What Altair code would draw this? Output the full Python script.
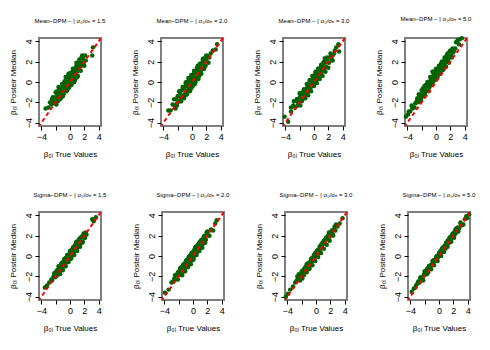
import altair as alt
import pandas as pd

# ---- data ----
titles = [
    "Mean\u2212DPM \u2212 | \u03c3\u2080/\u03c3\u2091 = 1.5",
    "Mean\u2212DPM \u2212 | \u03c3\u2080/\u03c3\u2091 = 2.0",
    "Mean\u2212DPM \u2212 | \u03c3\u2080/\u03c3\u2091 = 3.0",
    "Mean\u2212DPM \u2212 | \u03c3\u2080/\u03c3\u2091 = 5.0",
    "Sigma\u2212DPM \u2212 | \u03c3\u2080/\u03c3\u2091 = 1.5",
    "Sigma\u2212DPM \u2212 | \u03c3\u2080/\u03c3\u2091 = 2.0",
    "Sigma\u2212DPM \u2212 | \u03c3\u2080/\u03c3\u2091 = 3.0",
    "Sigma\u2212DPM \u2212 | \u03c3\u2080/\u03c3\u2091 = 5.0",
]

x1 = [-3.4,-3.0,-2.6,-2.5,-2.3,-2.2,-2.0,-1.9,-1.8,-1.7,-1.6,-1.5,-1.4,-1.3,-1.2,-1.1,-1.0,-0.9,-0.8,-0.7,-0.6,-0.5,-0.4,-0.3,-0.2,-0.1,0.0,0.1,0.2,0.3,0.4,0.5,0.6,0.7,0.8,0.9,1.0,1.1,1.2,1.3,1.5,1.6,1.8,1.9,2.1,2.2,3.2,3.1,-2.8,-1.2,0.2,-0.6,0.9,1.4,-1.8,0.6,-0.2,1.7,-1.0,0.4,
      -2.4,-2.0,-1.7,-1.5,-1.3,-1.1,-0.9,-0.7,-0.5,-0.3,-0.1,0.1,0.3,0.5,0.7,0.9,1.1,1.3,1.5,1.7,-1.9,-1.4,-0.8,-0.2,0.4,1.0,1.6,2.0,-1.6,-0.4,0.8,1.2]
y1 = [-2.6,-2.5,-2.2,-1.7,-1.8,-2.1,-1.5,-1.9,-1.2,-1.6,-1.0,-1.4,-0.9,-1.3,-0.6,-1.0,-0.5,-0.9,-0.3,-0.7,-0.1,-0.6,0.2,-0.3,0.3,-0.1,0.5,0.0,0.7,0.3,1.0,0.4,1.2,0.7,1.4,0.9,1.6,1.1,1.9,1.4,2.1,1.6,2.3,1.9,2.6,2.1,3.4,2.6,-2.0,-1.5,-0.3,0.5,1.9,2.0,-0.9,0.0,0.8,2.6,-1.4,0.8,
      -1.5,-1.0,-1.9,-0.6,-1.6,-0.2,-1.2,0.1,-0.9,0.6,-0.5,0.9,-0.1,1.2,0.2,1.6,0.6,2.2,1.1,1.9,-2.2,-1.7,0.0,-0.6,1.3,0.5,2.4,1.6,-0.5,-0.8,0.4,1.8]

x2 = [-3.3,-3.0,-2.7,-2.4,-2.2,-2.1,-1.9,-1.8,-1.6,-1.5,-1.4,-1.3,-1.1,-1.0,-0.9,-0.8,-0.7,-0.6,-0.5,-0.4,-0.3,-0.2,-0.1,0.0,0.1,0.2,0.3,0.4,0.5,0.6,0.7,0.8,0.9,1.0,1.1,1.2,1.3,1.4,1.5,1.7,1.8,2.0,2.2,2.4,2.6,2.9,3.3,3.5,-2.0,-1.2,-0.4,0.3,1.0,1.6,-0.9,0.0,0.8,-1.7,1.9,-0.2,
      -2.5,-2.1,-1.8,-1.5,-1.3,-1.1,-0.9,-0.7,-0.5,-0.3,-0.1,0.1,0.3,0.5,0.7,0.9,1.1,1.3,1.5,1.7,2.0,2.3,-1.6,-0.8,0.0,0.8,1.6,-2.3,1.2,0.4]
y2 = [-2.8,-2.8,-2.2,-2.3,-1.7,-2.1,-1.4,-1.9,-1.2,-1.6,-0.8,-1.4,-0.6,-1.2,-0.4,-0.9,-0.2,-0.8,0.0,-0.5,0.3,-0.3,0.4,0.0,0.6,0.1,0.8,0.3,1.0,0.4,1.1,0.7,1.4,0.8,1.6,1.0,1.8,1.3,2.0,1.7,2.3,2.1,2.5,2.4,2.8,3.1,3.2,3.7,-1.4,-0.6,0.3,1.0,0.6,1.3,-1.3,0.6,1.3,-1.0,1.6,-0.7,
      -1.7,-2.3,-0.9,-1.9,-0.5,-1.6,-0.1,-1.2,0.4,-0.9,0.7,-0.4,1.1,0.0,1.4,0.3,1.8,0.8,2.2,1.3,2.6,1.9,-1.9,0.0,-0.5,1.6,2.3,-2.6,0.9,-0.2]

x3 = [-4.1,-3.6,-3.2,-2.9,-2.6,-2.4,-2.2,-2.0,-1.9,-1.7,-1.6,-1.5,-1.3,-1.2,-1.1,-1.0,-0.9,-0.8,-0.7,-0.6,-0.5,-0.4,-0.3,-0.2,-0.1,0.0,0.1,0.2,0.3,0.4,0.5,0.6,0.7,0.8,0.9,1.0,1.1,1.2,1.4,1.5,1.7,1.9,2.1,2.3,2.5,2.8,3.1,3.4,3.5,-2.4,-1.4,-0.6,0.2,1.0,1.8,-1.8,-0.2,0.6,1.3,2.6,
      -2.8,-2.3,-2.0,-1.7,-1.4,-1.2,-1.0,-0.8,-0.6,-0.4,-0.2,0.0,0.2,0.4,0.6,0.8,1.0,1.2,1.4,1.6,1.8,2.0,2.3,2.6,-1.9,-0.9,0.3,1.5,-3.2,2.9]
y3 = [-3.4,-3.9,-2.5,-2.3,-2.5,-1.7,-2.0,-1.5,-1.9,-1.2,-1.7,-1.0,-1.4,-0.8,-1.2,-0.6,-1.0,-0.4,-0.8,-0.2,-0.6,0.0,-0.4,0.2,-0.2,0.4,0.0,0.6,0.2,0.8,0.4,1.0,0.6,1.2,0.8,1.4,1.0,1.6,1.2,1.9,1.5,2.2,1.9,2.5,2.2,2.8,3.4,3.7,3.0,-1.9,-0.8,0.1,0.8,1.6,2.4,-1.1,0.6,1.3,1.9,2.6,
      -1.9,-2.3,-1.1,-1.9,-0.7,-1.6,-0.2,-1.3,0.2,-0.9,0.6,-0.4,1.0,-0.1,1.3,0.3,1.7,0.6,2.0,1.0,2.3,1.4,2.8,2.1,-2.3,-0.3,0.2,2.3,-2.9,3.1]

x4 = [-4.2,-3.9,-3.6,-3.3,-3.0,-2.7,-2.5,-2.3,-2.1,-1.9,-1.8,-1.6,-1.5,-1.3,-1.2,-1.0,-0.9,-0.8,-0.6,-0.5,-0.4,-0.3,-0.2,-0.1,0.0,0.1,0.2,0.3,0.4,0.5,0.6,0.7,0.8,0.9,1.0,1.2,1.3,1.5,1.7,1.9,2.1,2.3,2.5,2.8,3.0,3.3,3.6,-2.0,-1.1,-0.4,0.3,1.1,1.8,-2.6,-0.7,0.6,1.4,2.4,-1.4,0.1,
      -3.4,-2.9,-2.4,-2.1,-1.8,-1.5,-1.2,-1.0,-0.8,-0.6,-0.4,-0.2,0.0,0.2,0.4,0.6,0.8,1.0,1.2,1.4,1.6,1.8,2.0,2.2,-1.6,-0.5,0.9,2.7,-3.8,3.2]
y4 = [-3.4,-3.2,-2.9,-2.6,-2.5,-1.9,-2.0,-1.4,-1.6,-1.1,-1.4,-0.7,-1.0,-0.4,-0.8,-0.1,-0.5,0.1,-0.2,0.4,0.0,0.6,0.2,0.9,0.4,1.1,0.6,1.3,0.9,1.5,1.1,1.8,1.3,2.0,1.5,2.4,1.9,2.6,2.2,3.0,2.6,3.3,3.1,3.9,4.1,4.2,4.3,-0.8,-0.2,0.6,0.9,1.8,2.4,-1.6,0.4,1.6,2.1,2.9,-0.3,0.8,
      -2.3,-2.1,-1.2,-1.8,-0.6,-1.3,0.0,-0.9,0.5,-0.3,1.0,0.2,1.3,0.5,1.6,0.8,2.0,1.2,2.2,1.5,2.8,1.9,3.1,2.4,-0.4,1.0,1.2,3.3,-2.9,3.7]

x5 = [-3.5,-3.2,-2.9,-2.5,-2.3,-2.1,-2.0,-1.9,-1.7,-1.6,-1.5,-1.4,-1.3,-1.2,-1.1,-1.0,-0.9,-0.8,-0.7,-0.6,-0.5,-0.4,-0.3,-0.2,-0.1,0.0,0.1,0.2,0.3,0.4,0.5,0.6,0.7,0.8,0.9,1.0,1.1,1.2,1.3,1.4,1.5,1.6,1.8,2.0,2.2,2.3,3.1,3.3,3.6,-1.8,-1.0,-0.3,0.4,1.1,1.7,-1.4,-0.6,0.2,0.9,1.9,
      -2.2,-1.9,-1.6,-1.4,-1.2,-1.0,-0.8,-0.6,-0.4,-0.2,0.0,0.2,0.4,0.6,0.8,1.0,1.2,1.4,1.6,1.8,-1.5,-0.7,0.1,0.9,1.7,-1.1,0.5,2.1,-2.6,1.3]
y5 = [-3.1,-2.9,-2.6,-2.4,-2.0,-2.1,-1.6,-1.9,-1.4,-1.7,-1.2,-1.5,-1.0,-1.3,-0.8,-1.1,-0.6,-0.9,-0.4,-0.7,-0.2,-0.5,0.0,-0.3,0.2,0.0,0.4,0.1,0.6,0.3,0.8,0.5,1.0,0.7,1.2,0.8,1.4,1.0,1.6,1.2,1.8,1.4,2.0,1.8,2.3,2.1,3.6,3.4,3.8,-1.4,-0.6,0.1,0.7,1.4,1.9,-1.0,-0.2,0.6,1.3,2.2,
      -1.7,-2.0,-1.0,-1.8,-0.7,-1.4,-0.3,-1.0,0.1,-0.6,0.5,-0.2,0.8,0.1,1.2,0.5,1.5,0.9,1.9,1.4,-1.6,-0.3,-0.3,1.4,1.3,-1.2,0.9,1.8,-2.3,1.7]

x6 = [-3.9,-3.4,-3.0,-2.8,-2.6,-2.4,-2.2,-2.0,-1.9,-1.8,-1.6,-1.5,-1.4,-1.3,-1.2,-1.1,-1.0,-0.9,-0.8,-0.7,-0.6,-0.5,-0.4,-0.3,-0.2,-0.1,0.0,0.1,0.2,0.3,0.4,0.5,0.6,0.7,0.8,0.9,1.0,1.1,1.3,1.4,1.6,1.8,2.0,2.2,2.5,2.8,3.1,3.3,-2.1,-1.4,-0.6,0.2,0.9,1.5,-1.0,-0.2,0.5,1.2,2.0,-1.7,
      -2.5,-2.1,-1.8,-1.5,-1.3,-1.1,-0.9,-0.7,-0.5,-0.3,-0.1,0.1,0.3,0.5,0.7,0.9,1.1,1.3,1.5,1.7,1.9,-1.6,-0.8,0.0,0.8,1.6,2.3,-1.2,0.4,1.2]
y6 = [-3.6,-3.3,-2.6,-2.5,-2.2,-2.3,-1.8,-1.9,-1.5,-1.8,-1.3,-1.6,-1.0,-1.4,-0.8,-1.2,-0.6,-1.0,-0.4,-0.9,-0.2,-0.7,0.0,-0.5,0.2,-0.3,0.4,0.0,0.6,0.1,0.8,0.3,1.0,0.5,1.2,0.7,1.4,0.9,1.6,1.2,1.9,1.6,2.2,2.0,2.6,2.5,3.2,3.5,-1.6,-0.9,-0.1,0.6,1.3,1.8,-0.5,0.3,0.9,1.6,2.4,-1.3,
      -1.9,-2.3,-1.2,-1.9,-0.8,-1.5,-0.4,-1.1,0.0,-0.8,0.3,-0.3,0.8,0.1,1.1,0.5,1.5,0.8,1.9,1.3,2.3,-1.1,-0.4,-0.4,1.2,2.0,2.0,-1.5,0.9,1.0]

x7 = [-4.2,-3.9,-3.6,-3.2,-2.9,-2.7,-2.5,-2.3,-2.1,-1.9,-1.8,-1.6,-1.5,-1.4,-1.2,-1.1,-1.0,-0.9,-0.8,-0.7,-0.6,-0.5,-0.4,-0.3,-0.2,-0.1,0.0,0.1,0.2,0.3,0.4,0.5,0.6,0.7,0.8,0.9,1.0,1.2,1.3,1.5,1.7,1.9,2.1,2.3,2.5,2.7,3.0,3.3,3.7,-2.4,-1.3,-0.5,0.3,1.1,1.8,2.6,-1.7,-0.1,0.7,1.4,
      -2.6,-2.2,-2.0,-1.7,-1.5,-1.3,-1.1,-0.9,-0.7,-0.5,-0.3,-0.1,0.1,0.3,0.5,0.7,0.9,1.1,1.3,1.5,1.7,1.9,2.2,2.4,-1.9,-0.6,0.6,1.6,2.8,-1.0]
y7 = [-4.0,-3.7,-3.3,-3.0,-2.6,-2.4,-2.2,-1.9,-2.0,-1.6,-1.7,-1.3,-1.5,-1.1,-1.2,-0.8,-1.0,-0.6,-0.8,-0.4,-0.6,-0.2,-0.4,0.0,-0.1,0.2,0.1,0.4,0.3,0.6,0.5,0.7,0.7,0.9,0.9,1.1,1.2,1.4,1.6,1.7,2.0,1.9,2.3,2.2,2.6,2.5,2.9,3.2,3.7,-1.8,-0.8,-0.2,0.6,1.5,2.3,2.9,-1.3,0.3,1.1,1.8,
      -2.0,-2.4,-1.5,-1.9,-1.1,-1.6,-0.7,-1.2,-0.3,-0.9,0.1,-0.5,0.5,-0.1,0.9,0.3,1.3,0.7,1.6,1.1,2.0,1.5,2.5,2.0,-2.2,-0.3,0.3,1.9,3.1,-1.3]

x8 = [-3.8,-3.5,-3.2,-2.9,-2.7,-2.5,-2.3,-2.1,-1.9,-1.8,-1.6,-1.5,-1.3,-1.2,-1.0,-0.9,-0.8,-0.6,-0.5,-0.4,-0.3,-0.2,-0.1,0.0,0.1,0.2,0.3,0.4,0.5,0.6,0.7,0.8,0.9,1.0,1.1,1.2,1.4,1.5,1.7,1.9,2.0,2.2,2.4,2.6,2.8,3.0,3.3,3.6,3.9,4.2,-2.6,-1.4,-0.7,0.2,0.8,1.6,2.3,3.1,-1.7,0.4,
      -3.0,-2.6,-2.2,-2.0,-1.7,-1.4,-1.1,-0.9,-0.7,-0.4,-0.2,0.0,0.3,0.5,0.7,1.0,1.2,1.4,1.7,1.9,2.1,2.4,2.7,3.0,3.4,-1.5,-0.3,0.9,2.2,3.8]
y8 = [-3.5,-3.2,-2.9,-2.5,-2.6,-2.1,-2.2,-1.8,-1.8,-1.5,-1.5,-1.2,-1.2,-0.9,-0.9,-0.6,-0.8,-0.4,-0.5,-0.2,-0.3,0.0,-0.1,0.2,0.1,0.4,0.3,0.6,0.5,0.8,0.7,1.0,0.9,1.2,1.1,1.5,1.3,1.8,1.6,2.1,1.9,2.4,2.3,2.8,2.7,3.2,3.1,3.6,3.7,4.1,-2.2,-1.0,-0.4,0.5,1.0,1.9,2.6,3.0,-1.3,0.7,
      -2.7,-2.1,-2.4,-1.5,-1.8,-1.0,-1.3,-0.5,-0.9,-0.1,-0.5,0.3,0.0,0.8,0.4,1.3,0.9,1.7,1.4,2.2,1.8,2.7,2.4,3.3,3.1,-1.6,0.0,0.7,2.1,3.9]

xs_all = [x1, x2, x3, x4, x5, x6, x7, x8]
ys_all = [y1, y2, y3, y4, y5, y6, y7, y8]

tick_vals = [-4, -2, 0, 2, 4]
ref_line = [-5, 5]

FONT = "Liberation Sans"
sc = alt.Scale(domain=[-4.32, 4.32], nice=False, zero=False)

xaxis = alt.Axis(values=tick_vals, title="\u03b2\u2080\u1d62 True Values",
                 labelExpr="datum.value == -2 ? '' : datum.label",
                 labelOverlap=False, titlePadding=9)
yaxis = alt.Axis(values=tick_vals, title="\u03b2\u2080\u1d62 Posteir Median",
                 labelAngle=-90, labelOverlap=False, titlePadding=7)


def panel(xs, ys, title):
    df = pd.DataFrame({"x": xs, "y": ys})
    pts = alt.Chart(df).mark_circle(size=20, color="#006400", opacity=1).encode(
        x=alt.X("x:Q", scale=sc, axis=xaxis),
        y=alt.Y("y:Q", scale=sc, axis=yaxis),
    )
    ldf = pd.DataFrame({"x": ref_line, "y": ref_line})
    line = alt.Chart(ldf).mark_line(color="#ff0000", strokeDash=[4, 3],
                                    strokeWidth=2, clip=True).encode(
        x=alt.X("x:Q", scale=sc, axis=xaxis), y=alt.Y("y:Q", scale=sc, axis=yaxis))
    return alt.layer(pts, line).properties(
        width=62, height=88,
        title=alt.TitleParams(title, fontSize=6, font=FONT, fontWeight="normal",
                              anchor="middle", offset=14, color="#000000"),
    )


panels = [panel(xs_all[i], ys_all[i], titles[i]) for i in range(8)]
row1 = alt.hconcat(*panels[:4], spacing=23)
row2 = alt.hconcat(*panels[4:], spacing=23)
chart = alt.vconcat(row1, row2, spacing=32).properties(
    padding={"left": 0, "top": 6, "right": 0, "bottom": 0}
).configure_view(stroke="#7f7f7f", strokeWidth=2).configure_axis(
    grid=False, domain=False, tickColor="#000000", tickSize=4,
    labelFont=FONT, titleFont=FONT, labelFontSize=9, titleFontSize=8,
    titleFontWeight="normal", labelColor="#000000", titleColor="#000000",
    labelPadding=2, labelFlush=False, labelOverlap=False,
)

chart.save("out.html", embed_options={"renderer": "svg", "actions": False})
